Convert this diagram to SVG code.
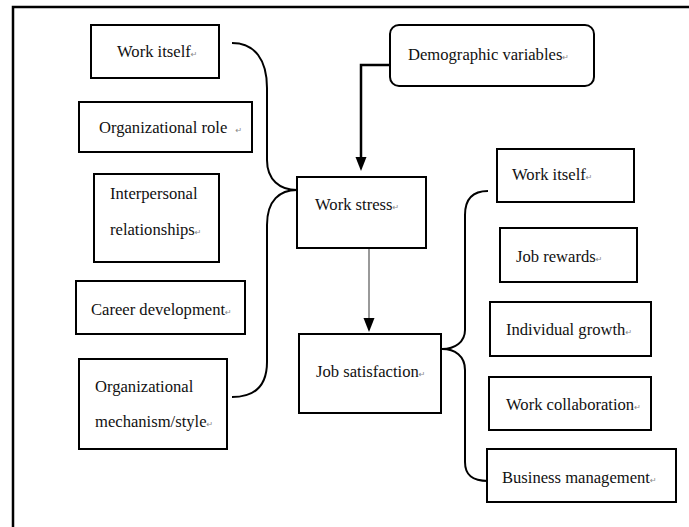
<svg xmlns="http://www.w3.org/2000/svg" width="689" height="527" viewBox="0 0 689 527">
<style>
.box{fill:#fff;stroke:#000;stroke-width:2}
.t{font-family:'Liberation Serif','Times New Roman',serif;font-size:16.6px;fill:#111}
.pm{font-family:'DejaVu Sans',sans-serif;font-size:8px;fill:#888}
.br{fill:none;stroke:#000;stroke-width:2}
</style>
<rect width="689" height="527" fill="#fff"/>
<g id="frame">
<path d="M13,527 L13,7 L689,7" fill="none" stroke="#000" stroke-width="2.5"/>
</g>
<g id="connectors">
<path d="M390,65 L361,65 L361,158" fill="none" stroke="#000" stroke-width="2.5"/>
<path d="M355.5,157 L366.5,157 L361,171 Z" fill="#000"/>
<path d="M369,248 L369,319" fill="none" stroke="#777" stroke-width="1.5"/>
<path d="M363.5,318 L374.5,318 L369,332 Z" fill="#000"/>
<path class="br" d="M232,43 C255,43 267,60 267,88 L267,160 C267,180 280,190 297,190 C280,190 267,200 267,225 L267,362 C267,385 255,397 232,397"/>
<path class="br" d="M488,191 C472,191 465,200 465,215 L465,330 C465,342 455,349 442,349 C455,349 465,356 465,370 L465,462 C465,475 472,481 488,481"/>
</g>
<g id="n-work-itself-l">
<rect class="box" x="91" y="25" width="128" height="53"/>
<text class="t" x="117" y="57">Work itself<tspan class="pm">↵</tspan></text>
</g>
<g id="n-org-role">
<rect class="box" x="79" y="102" width="173" height="50"/>
<text class="t" x="99" y="133">Organizational role <tspan class="pm" dx="4">↵</tspan></text>
</g>
<g id="n-interpersonal">
<rect class="box" x="94" y="174" width="125" height="88"/>
<text class="t" x="110" y="199">Interpersonal</text>
<text class="t" x="110" y="235">relationships<tspan class="pm">↵</tspan></text>
</g>
<g id="n-career">
<rect class="box" x="76" y="281" width="169" height="53"/>
<text class="t" x="91" y="315">Career development<tspan class="pm">↵</tspan></text>
</g>
<g id="n-org-mech">
<rect class="box" x="79" y="359" width="148" height="90"/>
<text class="t" x="95" y="392">Organizational</text>
<text class="t" x="95" y="427">mechanism/style<tspan class="pm">↵</tspan></text>
</g>
<g id="n-demographic">
<rect class="box" x="390" y="25" width="204" height="61" rx="9"/>
<text class="t" x="408" y="60">Demographic variables<tspan class="pm">↵</tspan></text>
</g>
<g id="n-work-stress">
<rect class="box" x="297" y="177" width="129" height="71"/>
<text class="t" x="315" y="210">Work stress<tspan class="pm">↵</tspan></text>
</g>
<g id="n-job-satisfaction">
<rect class="box" x="299" y="334" width="142" height="79"/>
<text class="t" x="316" y="377">Job satisfaction<tspan class="pm">↵</tspan></text>
</g>
<g id="n-work-itself-r">
<rect class="box" x="497" y="149" width="137" height="53"/>
<text class="t" x="512" y="180">Work itself<tspan class="pm">↵</tspan></text>
</g>
<g id="n-job-rewards">
<rect class="box" x="500" y="228" width="137" height="54"/>
<text class="t" x="516" y="262">Job rewards<tspan class="pm">↵</tspan></text>
</g>
<g id="n-individual-growth">
<rect class="box" x="490" y="302" width="161" height="54"/>
<text class="t" x="506" y="335">Individual growth<tspan class="pm">↵</tspan></text>
</g>
<g id="n-work-collab">
<rect class="box" x="489" y="377" width="162" height="53"/>
<text class="t" x="506" y="410">Work collaboration<tspan class="pm">↵</tspan></text>
</g>
<g id="n-business-mgmt">
<rect class="box" x="487" y="449" width="189" height="53"/>
<text class="t" x="502" y="483">Business management<tspan class="pm">↵</tspan></text>
</g>
</svg>
